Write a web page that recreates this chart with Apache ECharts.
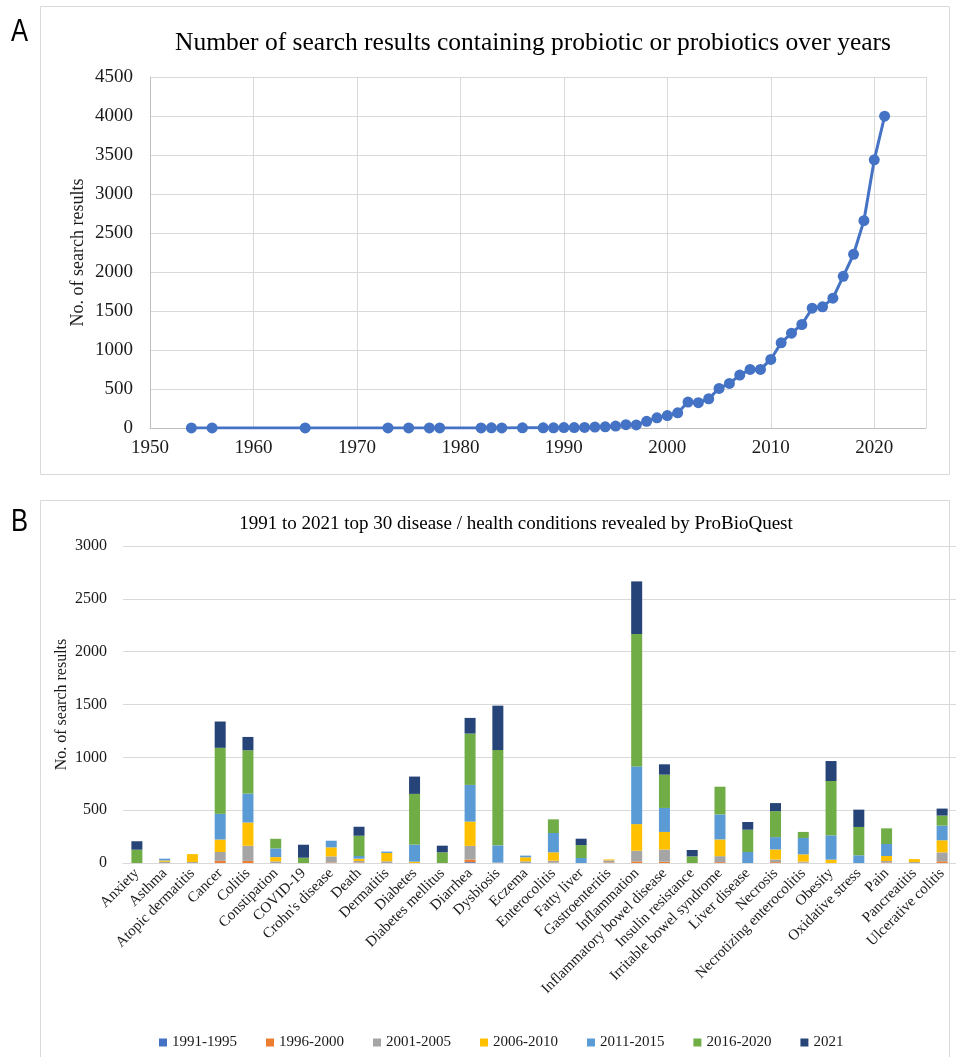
<!DOCTYPE html>
<html>
<head>
<meta charset="utf-8">
<script src="https://cdn.jsdelivr.net/npm/echarts@6/dist/echarts.min.js"></script>
<style>html,body{margin:0;padding:0;background:#fff;}#c{width:956px;height:1057px;}</style>
</head>
<body>
<div id="c"></div>
<script>
// Panel A data
const years = [1954,1956,1965,1973,1975,1977,1978,1982,1983,1984,1986,1988,1989,1990,1991,1992,1993,1994,1995,1996,1997,1998,1999,2000,2001,2002,2003,2004,2005,2006,2007,2008,2009,2010,2011,2012,2013,2014,2015,2016,2017,2018,2019,2020,2021];
const counts = [1,1,1,1,1,1,1,1,2,1,2,3,3,5,6,8,12,15,25,42,40,85,130,160,195,333,324,375,508,572,678,751,751,879,1092,1216,1327,1536,1553,1664,1945,2227,2658,3438,3997];

// Panel B data
const diseases = ["Anxiety","Asthma","Atopic dermatitis","Cancer","Colitis","Constipation","COVID-19","Crohn's disease","Death","Dermatitis","Diabetes","Diabetes mellitus","Diarrhea","Dysbiosis","Eczema","Enterocolitis","Fatty liver","Gastroenteritis","Inflammation","Inflammatory bowel disease","Insulin resistance","Irritable bowel syndrome","Liver disease","Necrosis","Necrotizing enterocolitis","Obesity","Oxidative stress","Pain","Pancreatitis","Ulcerative colitis"];
const periods = ["1991-1995","1996-2000","2001-2005","2006-2010","2011-2015","2016-2020","2021"];
const p1991_1995 = [0,0,0,0,0,0,0,0,0,0,0,0,8,0,0,0,0,0,0,0,0,0,0,0,0,0,0,0,0,0];
const p1996_2000 = [0,0,0,20,20,0,0,5,5,0,0,0,25,0,0,3,0,5,15,12,0,8,0,8,3,0,0,5,0,16];
const p2001_2005 = [0,12,9,84,143,15,0,58,14,16,0,0,129,5,16,19,0,20,101,115,0,57,0,25,10,0,0,14,9,85];
const p2006_2010 = [0,12,75,118,220,41,0,85,22,79,13,0,230,0,38,79,0,9,252,167,0,158,0,95,69,32,0,47,28,114];
const p2011_2015 = [0,17,0,243,274,82,0,63,25,13,161,0,347,162,16,183,47,0,546,227,0,237,104,117,155,230,73,114,0,139];
const p2016_2020 = [126,0,0,625,410,91,50,0,192,0,480,101,486,902,0,129,123,0,1253,315,63,262,211,246,57,514,268,148,0,95];
const p2021 = [80,0,0,249,126,0,123,0,85,0,164,63,148,420,0,0,60,0,498,98,60,0,73,76,0,189,164,0,0,66];
const periodData = [p1991_1995,p1996_2000,p2001_2005,p2006_2010,p2011_2015,p2016_2020,p2021];
const periodColors = ["#4472C4","#ED7D31","#A5A5A5","#FFC000","#5B9BD5","#70AD47","#264478"];

const serif = "'Liberation Serif','Times New Roman',serif";
const txt = '#1a1a1a';
const gridCol = '#d9d9d9';
const plain = v => String(v);

const chart = echarts.init(document.getElementById('c'), null, {renderer:'canvas'});

const barSeries = periods.map((p,i)=>({
  name: p, type:'bar', stack:'total', xAxisIndex:1, yAxisIndex:1,
  barWidth: 11, itemStyle:{color: periodColors[i]},
  data: periodData[i], emphasis:{disabled:true}
}));

chart.setOption({
  animation:false,
  backgroundColor:'#fff',
  graphic:[
    {type:'rect', shape:{x:40.5,y:6.5,width:909,height:468}, style:{fill:'none', stroke:'#d9d9d9', lineWidth:1}},
    {type:'rect', shape:{x:40.5,y:500.5,width:909,height:560}, style:{fill:'none', stroke:'#d9d9d9', lineWidth:1}},
    {type:'text', x:11, y:16, scaleX:0.8, style:{text:'A', font:"32px 'Liberation Sans', Arial, sans-serif", fill:'#000'}},
    {type:'text', x:11, y:506, scaleX:0.8, style:{text:'B', font:"32px 'Liberation Sans', Arial, sans-serif", fill:'#000'}}
  ],
  title:[
    {text:'Number of search results containing probiotic or probiotics over years', left:528, top:25, textAlign:'center',
     textStyle:{fontFamily:serif, fontSize:25.5, fontWeight:'normal', color:'#000'}},
    {text:'1991 to 2021 top 30 disease / health conditions revealed by ProBioQuest', left:511, top:510, textAlign:'center',
     textStyle:{fontFamily:serif, fontSize:19, fontWeight:'normal', color:'#000'}}
  ],
  legend:{
    data: periods, left:154, top:1030, icon:'rect', itemWidth:8, itemHeight:8, itemGap:29,
    textStyle:{fontFamily:serif, fontSize:15, color:txt}
  },
  grid:[
    {left:150, top:77, width:776, height:351, containLabel:false},
    {left:123, top:546, width:836, height:317, containLabel:false}
  ],
  xAxis:[
    {type:'value', gridIndex:0, min:1950, max:2025, interval:10,
     axisLine:{show:true, lineStyle:{color:'#bfbfbf'}}, axisTick:{show:false},
     axisLabel:{fontFamily:serif, fontSize:19, color:txt, margin:11, formatter:plain, showMaxLabel:false},
     splitLine:{show:true, lineStyle:{color:gridCol}}},
    {type:'category', gridIndex:1, data:diseases,
     axisLine:{show:true, lineStyle:{color:'#d9d9d9'}}, axisTick:{show:false},
     axisLabel:{fontFamily:serif, fontSize:15, color:txt, rotate:45, interval:0, margin:8},
     splitLine:{show:false}}
  ],
  yAxis:[
    {type:'value', gridIndex:0, min:0, max:4500, interval:500,
     name:'No. of search results', nameLocation:'middle', nameGap:63, nameRotate:90, nameMoveOverlap:false,
     nameTextStyle:{fontFamily:serif, fontSize:18, color:txt},
     axisLine:{show:true, lineStyle:{color:'#bfbfbf'}}, axisTick:{show:false},
     axisLabel:{fontFamily:serif, fontSize:19, color:txt, margin:17, formatter:plain},
     splitLine:{show:true, lineStyle:{color:gridCol}}},
    {type:'value', gridIndex:1, min:0, max:3000, interval:500,
     name:'No. of search results', nameLocation:'middle', nameGap:53, nameRotate:90, nameMoveOverlap:false,
     nameTextStyle:{fontFamily:serif, fontSize:16, color:txt},
     axisLine:{show:false}, axisTick:{show:false},
     axisLabel:{fontFamily:serif, fontSize:16, color:txt, margin:16, formatter:plain},
     splitLine:{show:true, lineStyle:{color:gridCol}}}
  ],
  series:[
    {type:'line', xAxisIndex:0, yAxisIndex:0, data: years.map((y,i)=>[y,counts[i]]),
     symbol:'circle', symbolSize:11, itemStyle:{color:'#4472C4'}, lineStyle:{color:'#4472C4', width:3},
     emphasis:{disabled:true}}
  ].concat(barSeries)
});
</script>
</body>
</html>
